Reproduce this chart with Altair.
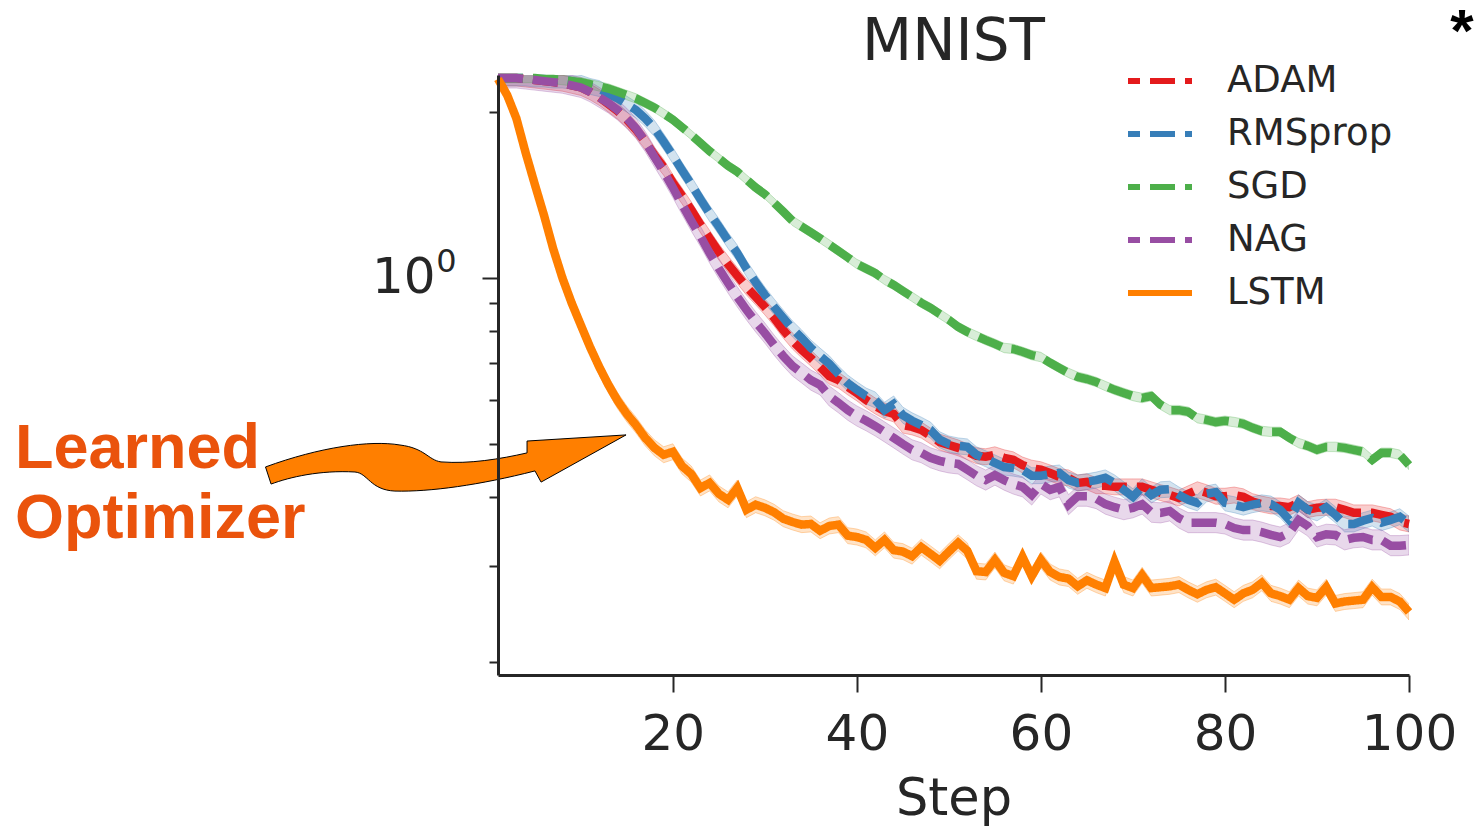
import altair as alt
import pandas as pd

# ---------------- data ----------------
SERIES = ["ADAM", "RMSprop", "SGD", "NAG", "LSTM"]
COLORS = ["#e41a1c", "#377eb8", "#4daf4a", "#984ea3", "#ff7f00"]
STEPS = list(range(1, 101))

ADAM = [2.31, 2.31, 2.31, 2.30, 2.29, 2.28, 2.27, 2.26, 2.24, 2.22,
        2.18, 2.13, 2.07, 2.01, 1.94, 1.86, 1.77, 1.67, 1.59, 1.49,
        1.41, 1.33, 1.25, 1.18, 1.115, 1.06, 1.01, 0.963, 0.924, 0.886,
        0.846, 0.804, 0.768, 0.740, 0.715, 0.689, 0.663, 0.652, 0.634, 0.618,
        0.600, 0.585, 0.573, 0.566, 0.540, 0.536, 0.529, 0.516, 0.503, 0.497,
        0.491, 0.483, 0.475, 0.473, 0.477, 0.471, 0.467, 0.457, 0.451, 0.448,
        0.442, 0.435, 0.433, 0.424, 0.426, 0.419, 0.419, 0.417, 0.417, 0.417,
        0.417, 0.412, 0.407, 0.403, 0.398, 0.405, 0.412, 0.407, 0.401, 0.401,
        0.403, 0.400, 0.392, 0.388, 0.385, 0.385, 0.383, 0.390, 0.379, 0.382,
        0.383, 0.383, 0.379, 0.374, 0.374, 0.374, 0.371, 0.368, 0.360, 0.357]

RMSPROP = [2.31, 2.31, 2.31, 2.31, 2.30, 2.30, 2.29, 2.29, 2.28, 2.26,
           2.23, 2.21, 2.16, 2.12, 2.07, 2.02, 1.95, 1.87, 1.77, 1.67,
           1.57, 1.48, 1.39, 1.31, 1.24, 1.17, 1.11, 1.04, 0.983, 0.931,
           0.886, 0.846, 0.808, 0.778, 0.746, 0.721, 0.698, 0.669, 0.644, 0.626,
           0.610, 0.600, 0.575, 0.590, 0.563, 0.550, 0.540, 0.529, 0.508, 0.499,
           0.495, 0.493, 0.477, 0.469, 0.461, 0.453, 0.451, 0.448, 0.437, 0.437,
           0.440, 0.442, 0.429, 0.424, 0.426, 0.429, 0.433, 0.424, 0.412, 0.400,
           0.417, 0.403, 0.412, 0.413, 0.403, 0.395, 0.390, 0.405, 0.408, 0.390,
           0.387, 0.383, 0.387, 0.390, 0.388, 0.379, 0.363, 0.390, 0.379, 0.374,
           0.383, 0.371, 0.357, 0.357, 0.362, 0.366, 0.359, 0.363, 0.368, 0.357]

SGD = [2.31, 2.31, 2.31, 2.31, 2.31, 2.30, 2.30, 2.29, 2.28, 2.27,
       2.25, 2.23, 2.21, 2.18, 2.15, 2.12, 2.08, 2.04, 1.99, 1.94,
       1.88, 1.82, 1.76, 1.70, 1.65, 1.60, 1.56, 1.51, 1.46, 1.42,
       1.37, 1.32, 1.27, 1.24, 1.21, 1.18, 1.15, 1.12, 1.09, 1.06,
       1.04, 1.02, 0.992, 0.971, 0.947, 0.924, 0.901, 0.882, 0.860, 0.839,
       0.815, 0.798, 0.784, 0.771, 0.759, 0.746, 0.743, 0.734, 0.724, 0.718,
       0.701, 0.686, 0.672, 0.661, 0.655, 0.647, 0.636, 0.626, 0.618, 0.610,
       0.605, 0.610, 0.588, 0.575, 0.575, 0.571, 0.556, 0.552, 0.547, 0.550,
       0.547, 0.543, 0.534, 0.527, 0.525, 0.525, 0.512, 0.501, 0.495, 0.487,
       0.493, 0.493, 0.491, 0.487, 0.483, 0.467, 0.481, 0.481, 0.477, 0.457]

NAG = [2.31, 2.31, 2.31, 2.30, 2.29, 2.28, 2.27, 2.26, 2.24, 2.22,
       2.18, 2.13, 2.08, 2.02, 1.95, 1.87, 1.77, 1.66, 1.56, 1.46,
       1.36, 1.27, 1.19, 1.11, 1.04, 0.979, 0.924, 0.875, 0.832, 0.794,
       0.755, 0.721, 0.692, 0.672, 0.652, 0.639, 0.610, 0.593, 0.575, 0.561,
       0.550, 0.538, 0.525, 0.512, 0.499, 0.487, 0.481, 0.471, 0.465, 0.461,
       0.459, 0.448, 0.437, 0.429, 0.438, 0.429, 0.422, 0.417, 0.403, 0.422,
       0.412, 0.417, 0.387, 0.401, 0.401, 0.397, 0.388, 0.383, 0.379, 0.382,
       0.388, 0.375, 0.374, 0.377, 0.366, 0.359, 0.359, 0.359, 0.359, 0.357,
       0.351, 0.348, 0.348, 0.345, 0.341, 0.338, 0.344, 0.363, 0.354, 0.338,
       0.342, 0.341, 0.334, 0.337, 0.338, 0.334, 0.334, 0.326, 0.326, 0.327]

LSTM = [2.30, 2.15, 1.95, 1.69, 1.48, 1.30, 1.13, 1.00, 0.901, 0.821,
        0.749, 0.689, 0.639, 0.598, 0.566, 0.540, 0.512, 0.491, 0.477, 0.483,
        0.455, 0.440, 0.415, 0.424, 0.405, 0.395, 0.415, 0.379, 0.387, 0.382,
        0.375, 0.365, 0.360, 0.356, 0.357, 0.347, 0.354, 0.356, 0.340, 0.338,
        0.334, 0.323, 0.334, 0.320, 0.318, 0.312, 0.324, 0.315, 0.306, 0.318,
        0.330, 0.319, 0.293, 0.292, 0.307, 0.291, 0.287, 0.311, 0.287, 0.307,
        0.292, 0.286, 0.284, 0.275, 0.282, 0.277, 0.273, 0.305, 0.277, 0.273,
        0.288, 0.273, 0.274, 0.275, 0.277, 0.271, 0.266, 0.271, 0.274, 0.267,
        0.260, 0.267, 0.271, 0.279, 0.267, 0.264, 0.260, 0.273, 0.264, 0.262,
        0.274, 0.256, 0.258, 0.259, 0.260, 0.274, 0.263, 0.263, 0.258, 0.247]

# multiplicative half-width of the shaded confidence band of each series
BAND = [1.034, 1.034, 1.02, 1.043, 1.034]

Y_TICKS = [0.2, 0.3, 0.4, 0.5, 0.6, 0.7, 0.8, 0.9, 1, 2]
X_TICKS = [20, 40, 60, 80, 100]

rows = []
for name, vals, band in zip(SERIES, [ADAM, RMSPROP, SGD, NAG, LSTM], BAND):
    for s, v in zip(STEPS, vals):
        rows.append({"step": s, "loss": v, "lo": v / band, "hi": v * band,
                     "optimizer": name})
df = pd.DataFrame(rows)

DARK = "#262626"
FONT = "DejaVu Sans"

x_scale = alt.Scale(domain=[1, 100], nice=False, zero=False)
y_scale = alt.Scale(type="log", domain=[0.1897, 2.339], nice=False)
ser_scale = alt.Scale(domain=SERIES, range=COLORS)
dash_scale = alt.Scale(domain=SERIES,
                       range=[[25, 10], [25, 10], [25, 10], [25, 10], [1, 0]])

x_axis = alt.Axis(values=X_TICKS, format="d", title="Step", grid=False,
                  tickSize=17, tickWidth=2, tickColor=DARK,
                  domainColor=DARK, domainWidth=3,
                  labelFont=FONT, labelFontSize=50, labelColor=DARK,
                  labelPadding=17, labelFlush=False,
                  titleFont=FONT, titleFontSize=51, titleFontWeight="normal",
                  titleColor=DARK, titlePadding=15, zindex=1)

y_axis = alt.Axis(values=Y_TICKS, title=None, grid=False,
                  labelExpr="datum.value == 1 ? '10' : ''",
                  tickSize={"condition": {"test": "datum.value == 1", "value": 16},
                            "value": 9},
                  tickWidth=2, tickColor=DARK,
                  domainColor=DARK, domainWidth=3,
                  labelFont=FONT, labelFontSize=50, labelColor=DARK,
                  labelPadding=47, labelFlush=False, labelOverlap=False,
                  labelBaseline="middle", zindex=1)

legend = alt.Legend(title=None, orient="none", legendX=627, legendY=-19,
                    symbolType="stroke", symbolSize=4096, symbolStrokeWidth=6,
                    symbolDashOffset=13, labelFont=FONT, labelFontSize=37,
                    labelColor=DARK, labelOffset=32, labelLimit=400,
                    clipHeight=50, rowPadding=3, padding=0)

base = alt.Chart(df)

# confidence bands, one layer per optimizer (drawn beneath the lines)
band_layers = []
for name, col in zip(SERIES, COLORS):
    band_layers.append(
        base.transform_filter(alt.datum.optimizer == name)
        .mark_area(color=col, fillOpacity=0.22, stroke=col, strokeOpacity=0.3,
                   strokeWidth=1, clip=True)
        .encode(
            x=alt.X("step:Q", scale=x_scale, axis=x_axis),
            y=alt.Y("lo:Q", scale=y_scale, axis=y_axis),
            y2="hi:Q",
        )
    )

lines = base.mark_line(strokeWidth=8.5).encode(
    x=alt.X("step:Q", scale=x_scale, axis=x_axis),
    y=alt.Y("loss:Q", scale=y_scale, axis=y_axis),
    color=alt.Color("optimizer:N", scale=ser_scale, legend=legend,
                    sort=SERIES),
    strokeDash=alt.StrokeDash("optimizer:N", scale=dash_scale, legend=legend,
                              sort=SERIES),
)

# ---------------- annotations ----------------
ARROW = ("M -1 0.022 C -0.697 -0.089 -0.419 -0.128 -0.253 -0.1 "
         "C -0.114 -0.083 -0.097 -0.017 -0.025 -0.006 "
         "C 0.136 0.006 0.303 -0.022 0.453 -0.056 "
         "L 0.453 -0.122 L 1.003 -0.156 L 0.531 0.106 L 0.497 0.044 "
         "C 0.192 0.122 -0.086 0.161 -0.281 0.156 "
         "C -0.419 0.15 -0.431 0.056 -0.503 0.05 "
         "C -0.697 0.039 -0.864 0.078 -0.969 0.117 Z")

one = pd.DataFrame({"v": [1.0]})

arrow = alt.Chart(one).mark_point(
    shape=ARROW, size=129600, filled=True, fill="#ff7f00", stroke="black",
    strokeWidth=1, opacity=1, fillOpacity=1,
).encode(x=alt.value(-52.5), y=alt.value(388))

note = alt.Chart(one).mark_text(
    text=["Learned", "Optimizer"], align="left", baseline="alphabetic",
    font="Liberation Sans", fontWeight="bold", fontSize=63, lineHeight=70,
    color="#ea530c",
).encode(x=alt.value(-483), y=alt.value(393))

# superscript exponent of the 10^0 tick label, anchored at loss = 1
sup = alt.Chart(one).mark_text(
    text="0", align="center", baseline="alphabetic", font=FONT, fontSize=32,
    color=DARK, yOffset=-6,
).encode(x=alt.value(-51.5), y=alt.Y("v:Q", scale=y_scale, axis=y_axis))

title = alt.Chart(one).mark_text(
    text="MNIST", align="center", baseline="alphabetic", font=FONT,
    fontSize=58, color=DARK,
).encode(x=alt.value(455.5), y=alt.value(-15))

star = alt.Chart(one).mark_text(
    text="*", align="center", baseline="alphabetic", font="Liberation Sans",
    fontWeight="bold", fontSize=60, color="black",
).encode(x=alt.value(964), y=alt.value(-24))

chart = alt.layer(*band_layers, lines, arrow, note, sup, title, star).properties(
    width=911, height=600,
    background="white",
    autosize=alt.AutoSizeParams(type="none"),
    padding={"left": 498, "top": 75, "right": 70, "bottom": 154},
).configure_view(stroke=None, strokeWidth=0)

chart.save("out.html", embed_options={"renderer": "svg", "actions": False})
